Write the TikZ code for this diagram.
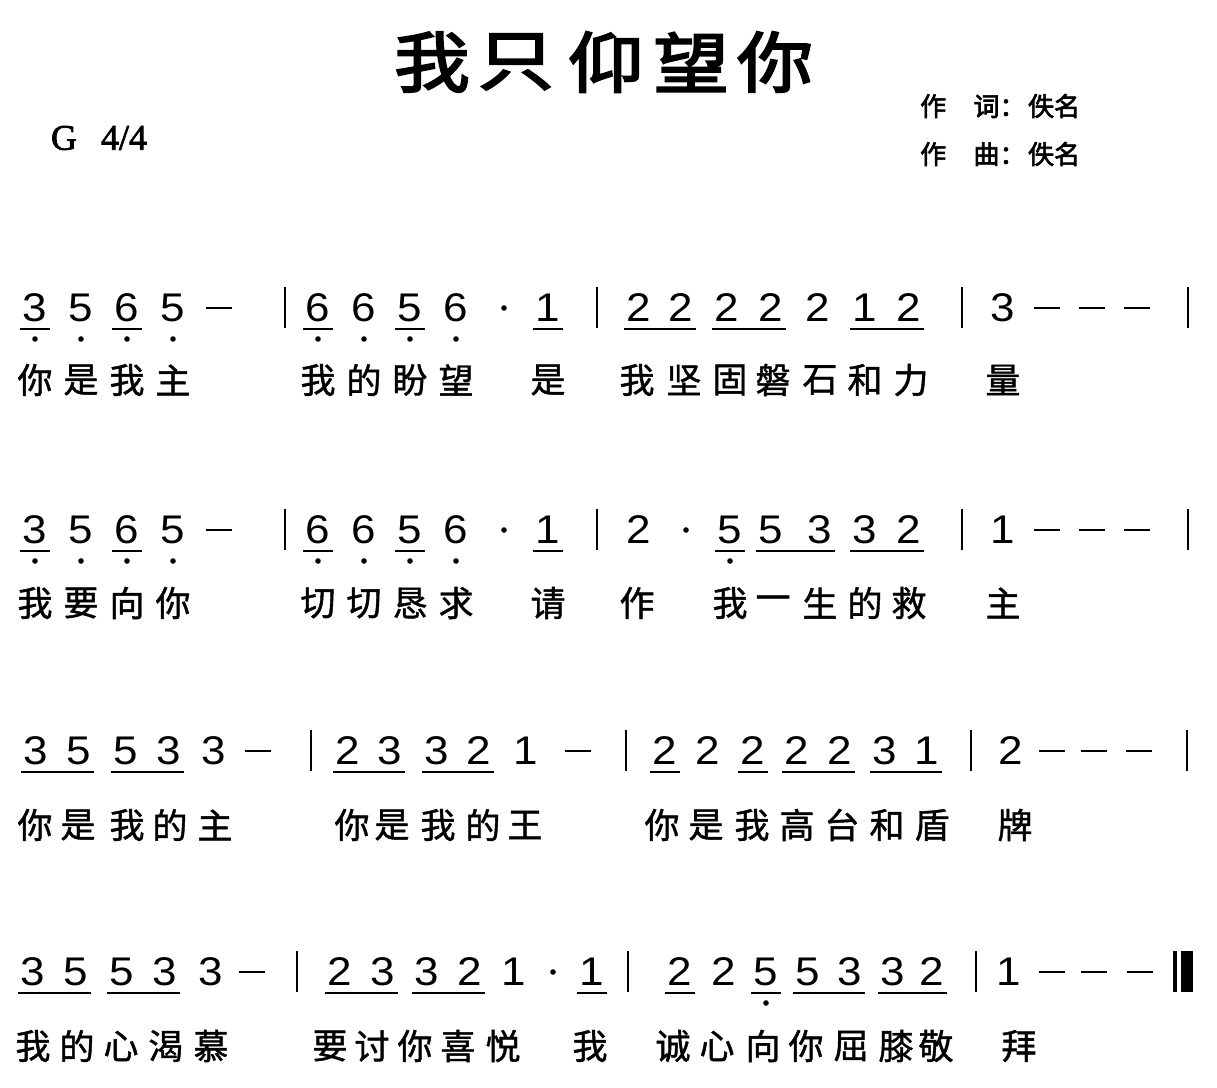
\documentclass[tikz,border=0pt]{standalone}
\usepackage{fontspec}
\newfontfamily\cjk[FakeBold=1.2]{Noto Sans CJK SC}
\newfontfamily\cjkbold[FakeBold=2.5]{Noto Sans CJK SC}
\newfontfamily\titlefont[FakeBold=3,FakeStretch=1.15]{Noto Sans CJK SC}
\newfontfamily\numfont[FakeStretch=1.1]{Liberation Sans}
\newfontfamily\keyfont[FakeBold=2]{Liberation Serif}
\tikzset{
  num/.style={font=\numfont\fontsize{40}{40}\selectfont, inner sep=0pt},
  lyr/.style={font=\cjk\fontsize{35}{35}\selectfont, inner sep=0pt},
  ttl/.style={font=\titlefont\fontsize{66}{66}\selectfont, inner sep=0pt},
  keytxt/.style={font=\keyfont\fontsize{36}{36}\selectfont, inner sep=0pt},
  cred/.style={font=\cjkbold\fontsize{26}{26}\selectfont, inner sep=0pt, anchor=west},
  uline/.style={line width=2.4pt},
  barline/.style={line width=2.8pt},
  holdline/.style={line width=2.6pt},
}
\newcommand\NT[4]{\node[num] (#1) at (#2,#3) {#4};}
\newcommand\LY[4]{\node[lyr] (#1) at (#2,#3) {#4};}
\newcommand\Uline[2]{\draw[uline] ([shift={(-15pt,-21pt)}]#1.center) -- ([shift={(15pt,-21pt)}]#2.center);}
\newcommand\Ldot[1]{\fill ([yshift=-31pt]#1.center) circle[radius=2.8pt];}
\newcommand\HoldL[2]{\draw[holdline] (#1-13,#2) -- (#1+13,#2);}
\newcommand\BarL[2]{\draw[barline] (#1,#2-21) -- (#1,#2+20);}
\newcommand\AugD[2]{\fill (#1,#2) circle[radius=2.8pt];}
\begin{document}
\begin{tikzpicture}[x=1pt,y=-1pt]
\useasboundingbox[fill=white] (0,0) rectangle (1217,1087);
% title
\node[ttl] (t1) at (432,62) {我};
\node[ttl] (t2) at (516,62) {只};
\node[ttl] (t3) at (606,62) {仰};
\node[ttl] (t4) at (691,62) {望};
\node[ttl] (t5) at (775,62) {你};
\node[keytxt] (keyG) at (64,138) {G};
\node[keytxt] (keyM) at (124,138) {4/4};
\node[cred] (cr1) at (920,106) {作\hspace{1.05em}词：\hspace{0.1em}佚名};
\node[cred] (cr2) at (920,154) {作\hspace{1.05em}曲：\hspace{0.1em}佚名};
% ---------------- line 1 ----------------
\NT{a1}{35}{308}{3}\NT{a2}{81}{308}{5}\NT{a3}{127}{308}{6}\NT{a4}{173}{308}{5}
\HoldL{219}{308}\BarL{285}{308}
\NT{a5}{318}{308}{6}\NT{a6}{364}{308}{6}\NT{a7}{410}{308}{5}\NT{a8}{456}{308}{6}
\AugD{504}{308}\NT{a9}{548}{308}{1}\BarL{597}{308}
\NT{a10}{639}{308}{2}\NT{a11}{681}{308}{2}\NT{a12}{727}{308}{2}\NT{a13}{771}{308}{2}
\NT{a14}{818}{308}{2}\NT{a15}{865}{308}{1}\NT{a16}{909}{308}{2}\BarL{962}{308}
\NT{a17}{1003}{308}{3}\HoldL{1047}{308}\HoldL{1092}{308}\HoldL{1137}{308}\BarL{1188}{308}
\Uline{a1}{a1}\Uline{a3}{a3}\Uline{a5}{a5}\Uline{a7}{a7}\Uline{a9}{a9}
\Uline{a10}{a11}\Uline{a12}{a13}\Uline{a15}{a16}
\Ldot{a1}\Ldot{a2}\Ldot{a3}\Ldot{a4}\Ldot{a5}\Ldot{a6}\Ldot{a7}\Ldot{a8}
\LY{la1}{35}{380}{你}\LY{la2}{81}{380}{是}\LY{la3}{127}{380}{我}\LY{la4}{173}{380}{主}
\LY{la5}{318}{380}{我}\LY{la6}{364}{380}{的}\LY{la7}{410}{380}{盼}\LY{la8}{456}{380}{望}
\LY{la9}{548}{380}{是}
\LY{la10}{637}{380}{我}\LY{la11}{684}{380}{坚}\LY{la12}{730}{380}{固}\LY{la13}{773}{380}{磐}
\LY{la14}{820}{380}{石}\LY{la15}{865}{380}{和}\LY{la16}{911}{380}{力}\LY{la17}{1003}{380}{量}
% ---------------- line 2 ----------------
\NT{b1}{35}{530}{3}\NT{b2}{81}{530}{5}\NT{b3}{127}{530}{6}\NT{b4}{173}{530}{5}
\HoldL{219}{530}\BarL{285}{530}
\NT{b5}{318}{530}{6}\NT{b6}{364}{530}{6}\NT{b7}{410}{530}{5}\NT{b8}{456}{530}{6}
\AugD{504}{530}\NT{b9}{548}{530}{1}\BarL{597}{530}
\NT{b10}{639}{530}{2}\AugD{686}{530}\NT{b11}{730}{530}{5}\NT{b12}{771}{530}{5}
\NT{b13}{820}{530}{3}\NT{b14}{865}{530}{3}\NT{b15}{909}{530}{2}\BarL{962}{530}
\NT{b16}{1003}{530}{1}\HoldL{1047}{530}\HoldL{1092}{530}\HoldL{1137}{530}\BarL{1188}{530}
\Uline{b1}{b1}\Uline{b3}{b3}\Uline{b5}{b5}\Uline{b7}{b7}\Uline{b9}{b9}
\Uline{b11}{b11}\Uline{b12}{b13}\Uline{b14}{b15}
\Ldot{b1}\Ldot{b2}\Ldot{b3}\Ldot{b4}\Ldot{b5}\Ldot{b6}\Ldot{b7}\Ldot{b8}\Ldot{b11}
\LY{lb1}{35}{603}{我}\LY{lb2}{81}{603}{要}\LY{lb3}{127}{603}{向}\LY{lb4}{173}{603}{你}
\LY{lb5}{318}{603}{切}\LY{lb6}{364}{603}{切}\LY{lb7}{410}{603}{恳}\LY{lb8}{456}{603}{求}
\LY{lb9}{548}{603}{请}\LY{lb10}{637}{603}{作}
\LY{lb11}{730}{603}{我}\LY{lb12}{773}{603}{一}\LY{lb13}{820}{603}{生}\LY{lb14}{865}{603}{的}
\LY{lb15}{909}{603}{救}\LY{lb16}{1003}{603}{主}
% ---------------- line 3 ----------------
\NT{c1}{36}{751}{3}\NT{c2}{79}{751}{5}\NT{c3}{126}{751}{5}\NT{c4}{169}{751}{3}\NT{c5}{214}{751}{3}
\HoldL{258}{751}\BarL{311}{751}
\NT{c6}{348}{751}{2}\NT{c7}{390}{751}{3}\NT{c8}{437}{751}{3}\NT{c9}{479}{751}{2}\NT{c10}{526}{751}{1}
\HoldL{578}{751}\BarL{626}{751}
\NT{c11}{665}{751}{2}\NT{c12}{708}{751}{2}\NT{c13}{753}{751}{2}\NT{c14}{797}{751}{2}
\NT{c15}{840}{751}{2}\NT{c16}{885}{751}{3}\NT{c17}{927}{751}{1}\BarL{971}{751}
\NT{c18}{1011}{751}{2}\HoldL{1052}{751}\HoldL{1094}{751}\HoldL{1139}{751}\BarL{1187}{751}
\Uline{c1}{c2}\Uline{c3}{c4}\Uline{c6}{c7}\Uline{c8}{c9}
\Uline{c11}{c11}\Uline{c13}{c13}\Uline{c14}{c15}\Uline{c16}{c17}
\LY{lc1}{35}{825}{你}\LY{lc2}{78}{825}{是}\LY{lc3}{127}{825}{我}\LY{lc4}{170}{825}{的}\LY{lc5}{215}{825}{主}
\LY{lc6}{352}{825}{你}\LY{lc7}{392}{825}{是}\LY{lc8}{438}{825}{我}\LY{lc9}{483}{825}{的}\LY{lc10}{525}{825}{王}
\LY{lc11}{662}{825}{你}\LY{lc12}{706}{825}{是}\LY{lc13}{752}{825}{我}\LY{lc14}{797}{825}{高}
\LY{lc15}{842}{825}{台}\LY{lc16}{887}{825}{和}\LY{lc17}{932}{825}{盾}\LY{lc18}{1015}{825}{牌}
% ---------------- line 4 ----------------
\NT{d1}{33}{972}{3}\NT{d2}{76}{972}{5}\NT{d3}{122}{972}{5}\NT{d4}{165}{972}{3}\NT{d5}{211}{972}{3}
\HoldL{252}{972}\BarL{297}{972}
\NT{d6}{340}{972}{2}\NT{d7}{383}{972}{3}\NT{d8}{427}{972}{3}\NT{d9}{470}{972}{2}\NT{d10}{514}{972}{1}
\AugD{553}{972}\NT{d11}{592}{972}{1}\BarL{628}{972}
\NT{d12}{680}{972}{2}\NT{d13}{724}{972}{2}\NT{d14}{766}{972}{5}\NT{d15}{808}{972}{5}
\NT{d16}{850}{972}{3}\NT{d17}{893}{972}{3}\NT{d18}{932}{972}{2}\BarL{976}{972}
\NT{d19}{1009}{972}{1}\HoldL{1052}{972}\HoldL{1094}{972}\HoldL{1140}{972}
\draw[line width=3.5pt] (1175,951) -- (1175,992);
\fill (1181,951) rectangle (1193,992);
\Uline{d1}{d2}\Uline{d3}{d4}\Uline{d6}{d7}\Uline{d8}{d9}\Uline{d11}{d11}
\Uline{d12}{d12}\Uline{d14}{d14}\Uline{d15}{d16}\Uline{d17}{d18}
\Ldot{d14}
\LY{ld1}{33}{1046}{我}\LY{ld2}{77}{1046}{的}\LY{ld3}{121}{1046}{心}\LY{ld4}{166}{1046}{渴}\LY{ld5}{211}{1046}{慕}
\LY{ld6}{330}{1046}{要}\LY{ld7}{372}{1046}{讨}\LY{ld8}{415}{1046}{你}\LY{ld9}{458}{1046}{喜}\LY{ld10}{503}{1046}{悦}
\LY{ld11}{590}{1046}{我}
\LY{ld12}{673}{1046}{诚}\LY{ld13}{717}{1046}{心}\LY{ld14}{763}{1046}{向}\LY{ld15}{806}{1046}{你}
\LY{ld16}{851}{1046}{屈}\LY{ld17}{896}{1046}{膝}\LY{ld18}{936}{1046}{敬}\LY{ld19}{1019}{1046}{拜}
\end{tikzpicture}
\end{document}
